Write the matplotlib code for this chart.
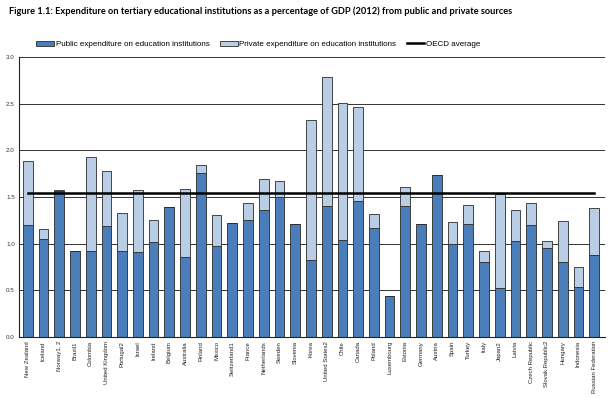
import numpy as np
import matplotlib
matplotlib.use("Agg")
from matplotlib import pyplot as plt
from matplotlib.patches import Patch
from matplotlib.lines import Line2D

countries = ["New Zealand", "Iceland", "Norway1, 2", "Brazil1", "Colombia", "United Kingdom",
             "Portugal2", "Israel", "Ireland", "Belgium", "Australia", "Finland", "Mexico",
             "Switzerland1", "France", "Netherlands", "Sweden", "Slovenia", "Korea",
             "United States2", "Chile", "Canada", "Poland", "Luxembourg", "Estonia", "Germany",
             "Austria", "Spain", "Turkey", "Italy", "Japan2", "Latvia", "Czech Republic",
             "Slovak Republic2", "Hungary", "Indonesia", "Russian Federation"]

public = [1.20, 1.05, 1.56, 0.92, 0.92, 1.19, 0.92, 0.91, 1.02, 1.39, 0.86, 1.76, 0.97,
          1.22, 1.25, 1.36, 1.50, 1.21, 0.825, 1.40, 1.035, 1.46, 1.17, 0.44, 1.40, 1.215,
          1.73, 1.00, 1.21, 0.80, 0.525, 1.03, 1.20, 0.955, 0.80, 0.54, 0.875]

total = [1.88, 1.16, 1.575, 0.92, 1.925, 1.78, 1.325, 1.57, 1.25, 1.39, 1.59, 1.84, 1.31,
         1.22, 1.43, 1.69, 1.675, 1.21, 2.32, 2.78, 2.51, 2.46, 1.32, 0.44, 1.61, 1.215,
         1.73, 1.23, 1.41, 0.925, 1.53, 1.36, 1.435, 1.025, 1.24, 0.745, 1.38]

oecd_avg = 1.54

private = [t - p for t, p in zip(total, public)]
x = np.arange(len(countries))

fig = plt.figure(figsize=(6.15, 4.04), dpi=100)
ax = fig.add_axes([0.031, 0.166, 0.953, 0.693])

ax.set_axisbelow(True)
ax.yaxis.grid(True, color="#333333", linewidth=0.7)
ax.bar(x, public, width=0.62, color="#4a7ebb", edgecolor="#2b2b2b", linewidth=0.6, zorder=2)
ax.bar(x, private, bottom=public, width=0.62, color="#b9cde5", edgecolor="#2b2b2b",
       linewidth=0.6, zorder=2)
ax.plot([x[0], x[-1]], [oecd_avg, oecd_avg], color="black", linewidth=1.8, zorder=3)

ax.set_xlim(-0.55, len(countries) - 0.3)
ax.set_ylim(0, 3.0)
ax.set_yticks(np.arange(0, 3.01, 0.5))
ax.set_yticklabels(["%.1f" % v for v in np.arange(0, 3.01, 0.5)], fontsize=4.5,
                   family="Liberation Sans", color="#333333")
ax.set_xticks(x)
ax.set_xticklabels(countries, rotation=90, fontsize=4.3, family="Liberation Sans",
                   color="#222222")
ax.tick_params(axis="both", length=0, pad=3)
for s in ["top", "right"]:
    ax.spines[s].set_visible(False)
ax.spines["left"].set_color("#222222")
ax.spines["bottom"].set_color("#222222")

fig.text(0.014, 0.985, "Figure 1.1: Expenditure on tertiary educational institutions as a "
         "percentage of GDP (2012) from public and private sources",
         fontsize=6.7, fontweight="bold", family="Lato", va="top", ha="left")

handles = [Patch(facecolor="#4a7ebb", edgecolor="#2b2b2b", linewidth=0.6),
           Patch(facecolor="#b9cde5", edgecolor="#2b2b2b", linewidth=0.6),
           Line2D([], [], color="black", linewidth=1.8)]
labels = ["Public expenditure on education institutions",
          "Private expenditure on education institutions", "OECD average"]
fig.legend(handles, labels, loc="center", bbox_to_anchor=(0.42, 0.89), ncol=3,
           frameon=False, prop={"family": "Liberation Sans", "size": 5.8},
           handlelength=2.2, handleheight=0.6, handletextpad=0.2, columnspacing=1.3)

fig.savefig("out.png", dpi=100)
